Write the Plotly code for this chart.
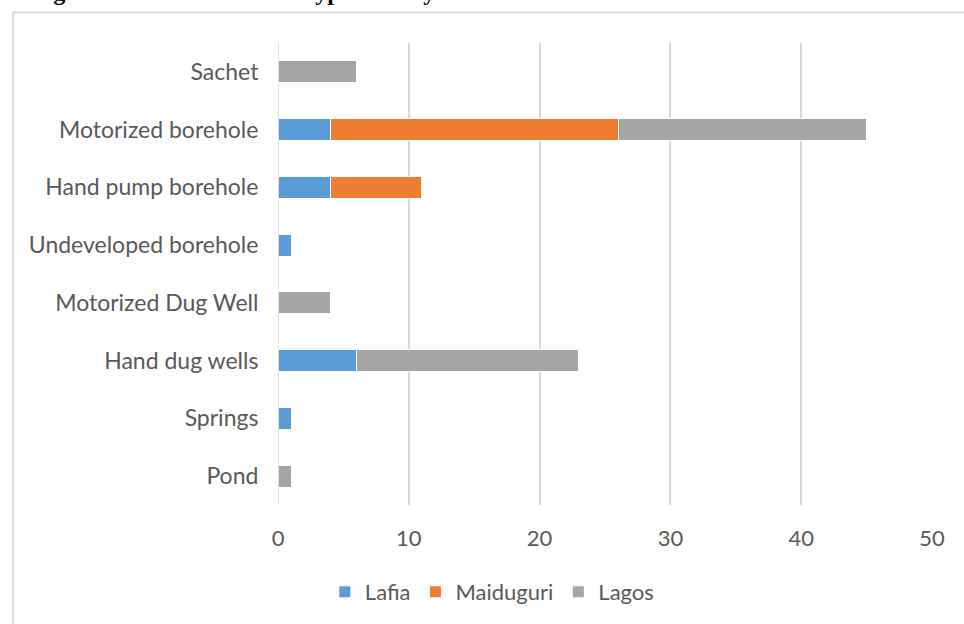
import plotly.graph_objects as go

# categories listed bottom to top, as drawn
sources = [
    "Pond",
    "Springs",
    "Hand dug wells",
    "Motorized Dug Well",
    "Undeveloped borehole",
    "Hand pump borehole",
    "Motorized borehole",
    "Sachet",
]
lafia = [0, 1, 6, 0, 1, 4, 4, 0]
maiduguri = [0, 0, 0, 0, 0, 7, 22, 0]
lagos = [1, 0, 17, 4, 0, 0, 19, 6]

x_ticks = [0, 10, 20, 30, 40, 50]
title_text = "Figure 2: Sources of water type used by location"

colors = {"Lafia": "#5B9BD5", "Maiduguri": "#ED7D31", "Lagos": "#A5A5A5"}
text_color = "#595959"
font_family = "Lato, 'Open Sans', sans-serif"

fig = go.Figure()
for name, vals in [("Lafia", lafia), ("Maiduguri", maiduguri), ("Lagos", lagos)]:
    fig.add_trace(
        go.Bar(
            y=sources,
            x=vals,
            name=name,
            orientation="h",
            marker=dict(color=colors[name], line=dict(color="#FFFFFF", width=1)),
        )
    )

# plot area in pixels (964x624 page)
L, R, T, B = 278, 31.5, 43, 118
W = 964 - L - R
H = 624 - T - B

fig.update_layout(
    width=964,
    height=624,
    barmode="stack",
    bargap=0.62,
    margin=dict(l=L, r=R, t=T, b=B, pad=0),
    paper_bgcolor="white",
    plot_bgcolor="white",
    font=dict(family=font_family, size=22, color=text_color),
    xaxis=dict(
        range=[0, 50],
        tickvals=x_ticks,
        showgrid=True,
        gridcolor="#D9D9D9",
        gridwidth=1.5,
        zeroline=False,
        showline=False,
        ticks="",
        ticklabelstandoff=18,
        tickfont=dict(size=22),
    ),
    yaxis=dict(
        categoryorder="array",
        categoryarray=sources,
        showgrid=False,
        zeroline=False,
        showline=False,
        ticks="outside",
        ticklen=14,
        tickcolor="rgba(0,0,0,0)",
        tickfont=dict(size=23),
    ),
    legend=dict(
        orientation="h",
        x=(492 - L) / W,
        xanchor="center",
        y=(506 - 592) / H,
        yanchor="middle",
        font=dict(size=22, color=text_color),
        itemwidth=30,
        traceorder="normal",
    ),
    showlegend=True,
)

# vertical zero line of the value axis
fig.add_vline(x=0, line=dict(color="#D9D9D9", width=1.5))

# outer chart border (only top and left edges fall inside the page)
fig.add_shape(
    type="rect",
    xref="paper",
    yref="paper",
    x0=(13 - L) / W,
    x1=1.2,
    y0=-0.5,
    y1=1 + (T - 12.5) / H,
    line=dict(color="#D9D9D9", width=2),
    layer="below",
)

# figure caption, cut off at the top of the page
fig.add_annotation(
    text="<b>" + title_text + "</b>",
    xref="paper",
    yref="paper",
    x=(30 - L) / W,
    xanchor="left",
    y=1 + (T - 7) / H,
    yanchor="bottom",
    showarrow=False,
    font=dict(family="Liberation Serif", size=24, color="black"),
)

fig.write_html(
    "out.html",
    config={"displayModeBar": False},
    post_script="document.body.style.margin='0px';",
)
